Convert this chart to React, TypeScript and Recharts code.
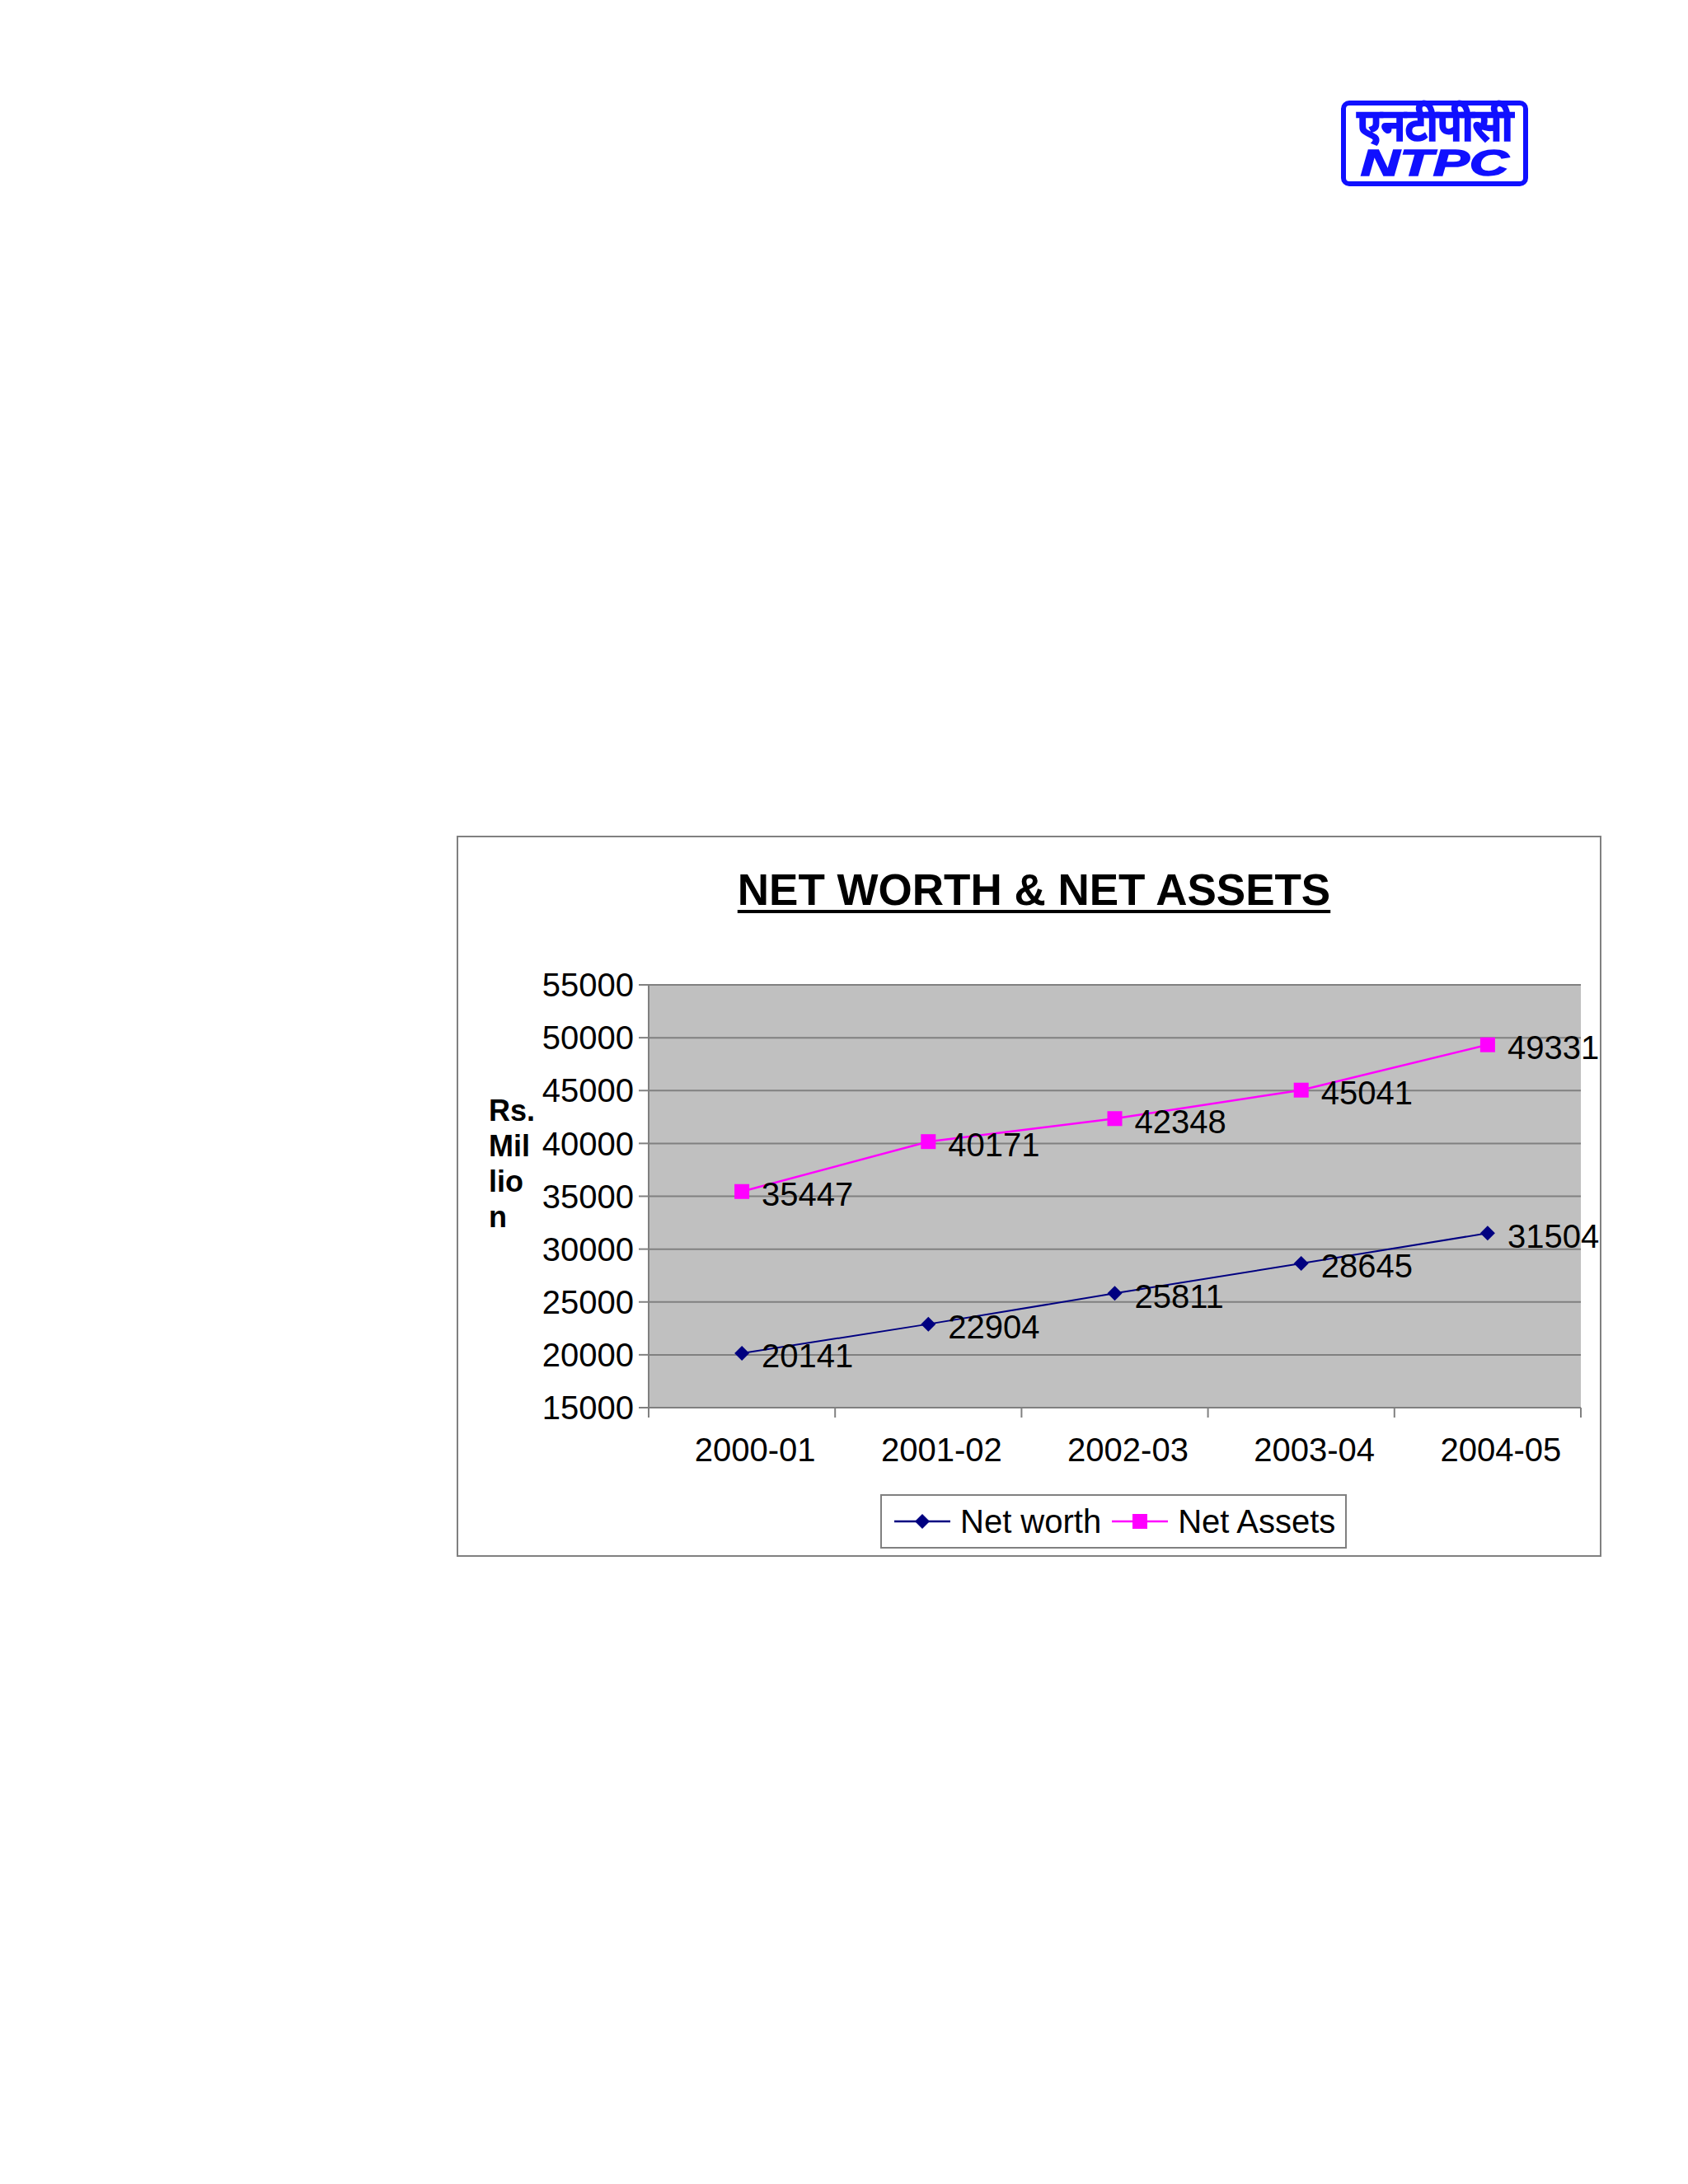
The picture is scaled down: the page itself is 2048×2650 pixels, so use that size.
import React from 'react';
import { LineChart, Line, XAxis, YAxis, CartesianGrid, LabelList, Legend } from 'recharts';

const years = ['2000-01', '2001-02', '2002-03', '2003-04', '2004-05'];
const netWorth = [20141, 22904, 25811, 28645, 31504];
const netAssets = [35447, 40171, 42348, 45041, 49331];
const yTicks = [15000, 20000, 25000, 30000, 35000, 40000, 45000, 50000, 55000];
const seriesOrder = ['netWorth', 'netAssets'];

const data = years.map((year, i) => ({ year, netWorth: netWorth[i], netAssets: netAssets[i] }));

const FONT = '"Liberation Sans", Arial, sans-serif';
const NAVY = '#000080';
const MAGENTA = '#ff00ff';
const GRAY = '#808080';
const LOGO_BLUE = '#1010ff';

// chart frame on the page
const FRAME_X = 554;
const FRAME_Y = 1014;
const CHART_W = 1389;
const CHART_H = 875;
const Y_AXIS_W = 233;
const RIGHT_M = 25;
const PLOT_W = CHART_W - Y_AXIS_W - RIGHT_M;
const HALF_BAND = PLOT_W / years.length / 2;

const Diamond = (props: any) => {
  const { cx, cy } = props;
  if (cx == null || cy == null) return null;
  const r = 9;
  return <path d={`M${cx} ${cy - r}L${cx + r} ${cy}L${cx} ${cy + r}L${cx - r} ${cy}Z`} fill={NAVY} />;
};

const Square = (props: any) => {
  const { cx, cy } = props;
  if (cx == null || cy == null) return null;
  return <rect x={cx - 9} y={cy - 9} width={18} height={18} fill={MAGENTA} />;
};

const ValueLabel = (props: any) => {
  const { x, y, value } = props;
  return (
    <text x={x + 24} y={y + 3} dy="0.36em" fontSize={40} fontFamily={FONT} fill="#000">
      {value}
    </text>
  );
};

const XTick = (props: any) => {
  const { x, y, payload, index } = props;
  return (
    <g>
      <line x1={x - HALF_BAND} y1={y} x2={x - HALF_BAND} y2={y + 12} stroke={GRAY} strokeWidth={2} />
      {index === years.length - 1 && (
        <line x1={x + HALF_BAND} y1={y} x2={x + HALF_BAND} y2={y + 12} stroke={GRAY} strokeWidth={2} />
      )}
      <text x={x + 16} y={y + 65} textAnchor="middle" fontSize={40} fontFamily={FONT} fill="#000">
        {payload.value}
      </text>
    </g>
  );
};

const LegendBox = (props: any) => {
  const payload = [...(props.payload || [])].sort(
    (a: any, b: any) => seriesOrder.indexOf(a.dataKey) - seriesOrder.indexOf(b.dataKey)
  );
  return (
    <div
      style={{
        width: 566,
        height: 66,
        boxSizing: 'border-box',
        border: `2px solid ${GRAY}`,
        background: '#fff',
        display: 'flex',
        alignItems: 'center',
        paddingLeft: 15,
        fontFamily: FONT,
        fontSize: 40,
        color: '#000',
      }}
    >
      {payload.map((p: any, i: number) => (
        <div key={p.dataKey} style={{ display: 'flex', alignItems: 'center', marginLeft: i === 0 ? 0 : 13 }}>
          <svg width={68} height={30} style={{ marginRight: 12 }}>
            <line x1={0} y1={15} x2={68} y2={15} stroke={p.color} strokeWidth={2.5} />
            {p.dataKey === 'netWorth' ? (
              <path d="M34 6L43 15L34 24L25 15Z" fill={p.color} />
            ) : (
              <rect x={25} y={6} width={18} height={18} fill={p.color} />
            )}
          </svg>
          <span>{p.value}</span>
        </div>
      ))}
    </div>
  );
};

export default function App() {
  return (
    <div style={{ position: 'absolute', left: 0, top: 0, width: 2048, height: 2650, background: '#fff', fontFamily: FONT }}>
      {/* logo */}
      <div
        style={{
          position: 'absolute',
          left: 1627,
          top: 122,
          width: 227,
          height: 104,
          boxSizing: 'border-box',
          border: `6px solid ${LOGO_BLUE}`,
          borderRadius: 10,
          color: LOGO_BLUE,
          textAlign: 'center',
          fontWeight: 900,
        }}
      >
        <div style={{ fontSize: 52, lineHeight: '50px', marginTop: -1, WebkitTextStroke: `2px ${LOGO_BLUE}` }}>
          एनटीपीसी
        </div>
        <div
          style={{
            fontSize: 44,
            lineHeight: '40px',
            marginTop: 1,
            fontStyle: 'italic',
            transform: 'scaleX(1.5)',
            WebkitTextStroke: `1.5px ${LOGO_BLUE}`,
          }}
        >
          NTPC
        </div>
      </div>

      {/* chart frame */}
      <div
        style={{
          position: 'absolute',
          left: FRAME_X,
          top: FRAME_Y,
          width: CHART_W,
          height: CHART_H,
          boxSizing: 'border-box',
          border: `2px solid ${GRAY}`,
        }}
      />
      <div
        style={{
          position: 'absolute',
          left: FRAME_X + 6,
          top: 1053,
          width: CHART_W,
          textAlign: 'center',
          fontSize: 53,
          lineHeight: '53px',
          fontWeight: 'bold',
          textDecoration: 'underline',
          textDecorationThickness: 4,
          textUnderlineOffset: 6,
        }}
      >
        NET WORTH &amp; NET ASSETS
      </div>
      <div style={{ position: 'absolute', left: 593, top: 1326, fontSize: 36, lineHeight: '43px', fontWeight: 'bold' }}>
        <div>Rs.</div>
        <div>Mil</div>
        <div>lio</div>
        <div>n</div>
      </div>

      <div style={{ position: 'absolute', left: FRAME_X, top: FRAME_Y }}>
        <LineChart
          width={CHART_W}
          height={CHART_H}
          data={data}
          margin={{ top: 181, right: RIGHT_M, left: 0, bottom: 81 }}
        >
          <CartesianGrid horizontal vertical={false} stroke={GRAY} strokeWidth={2} fill="#c0c0c0" fillOpacity={1} />
          <XAxis
            dataKey="year"
            height={100}
            padding={{ left: HALF_BAND, right: HALF_BAND }}
            axisLine={{ stroke: GRAY, strokeWidth: 2 }}
            tickLine={false}
            tickSize={0}
            tickMargin={0}
            tick={<XTick />}
            interval={0}
          />
          <YAxis
            width={Y_AXIS_W}
            domain={[15000, 55000]}
            ticks={yTicks}
            interval={0}
            stroke={GRAY}
            axisLine={{ stroke: GRAY, strokeWidth: 2 }}
            tickLine={{ stroke: GRAY, strokeWidth: 2 }}
            tickSize={12}
            tickMargin={6}
            tick={{ fontSize: 40, fill: '#000', fontFamily: FONT }}
          />
          <YAxis
            yAxisId="frame"
            orientation="right"
            width={0}
            domain={[15000, 55000]}
            tick={false}
            tickLine={false}
            axisLine={{ stroke: GRAY, strokeWidth: 2 }}
          />
          <Legend
            layout="horizontal"
            verticalAlign="middle"
            align="center"
            content={<LegendBox />}
            wrapperStyle={{ position: 'absolute', left: 514, top: 799, width: 566, height: 66 }}
          />
          <Line
            type="linear"
            dataKey="netWorth"
            name="Net worth"
            stroke={NAVY}
            strokeWidth={2}
            dot={<Diamond />}
            activeDot={false}
            isAnimationActive={false}
          >
            <LabelList dataKey="netWorth" content={<ValueLabel />} />
          </Line>
          <Line
            type="linear"
            dataKey="netAssets"
            name="Net Assets"
            stroke={MAGENTA}
            strokeWidth={2.5}
            dot={<Square />}
            activeDot={false}
            isAnimationActive={false}
          >
            <LabelList dataKey="netAssets" content={<ValueLabel />} />
          </Line>
        </LineChart>
      </div>
    </div>
  );
}
